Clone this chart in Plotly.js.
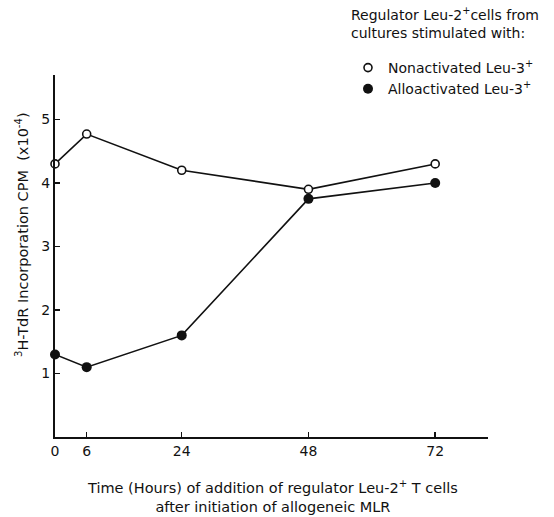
<!DOCTYPE html>
<html>
<head>
<meta charset="utf-8">
<script src="https://cdn.plot.ly/plotly-3.0.1.min.js"></script>
<style>html,body{margin:0;padding:0;background:#fff;}#chart{width:554px;height:517px;}</style>
</head>
<body>
<div id="chart"></div>
<script>
const hours = [0, 6, 24, 48, 72];
const nonactivated = [4.3, 4.77, 4.2, 3.9, 4.3];
const alloactivated = [1.3, 1.1, 1.6, 3.75, 4.0];
const xTickVals = [0, 6, 24, 48, 72];
const xTickText = ['0', '6', '24', '48', '72'];
const yTickVals = [1, 2, 3, 4, 5];
const yTickText = ['1', '2', '3', '4', '5'];
const seriesNames = ['Nonactivated Leu-3<sup>+</sup>', 'Alloactivated Leu-3<sup>+</sup>'];
const legendTitle = 'Regulator Leu-2<sup>+</sup>cells from<br>cultures stimulated with:';
const xTitle = 'Time (Hours) of addition of regulator Leu-2<sup>+</sup> T cells<br>after initiation of allogeneic MLR';
const yTitle = '<sup>3</sup>H-TdR Incorporation CPM  (x10<sup>-4</sup>)';

const ink = '#111';
const fontFam = '"DejaVu Sans", "Liberation Sans", Arial, sans-serif';
const fs = 14;

// plot area in pixels (for placing annotations)
const L = 55, R = 66, T = 75, B = 80, W = 554, H = 517;
const pw = W - L - R, ph = H - T - B;
const px = v => (v - L) / pw;
const py = v => (H - B - v) / ph;

const openMarker = {symbol: 'circle', size: 8, color: '#fff', line: {color: ink, width: 1.6}};
const filledMarker = {symbol: 'circle', size: 10, color: ink, line: {color: ink, width: 0}};

const traces = [
  {x: hours, y: nonactivated, type: 'scatter', mode: 'lines', line: {color: ink, width: 1.6}, showlegend: false, hoverinfo: 'skip'},
  {x: hours, y: alloactivated, type: 'scatter', mode: 'lines', line: {color: ink, width: 1.6}, showlegend: false, hoverinfo: 'skip'},
  {x: hours, y: nonactivated, name: seriesNames[0], type: 'scatter', mode: 'markers', marker: openMarker, cliponaxis: false},
  {x: hours, y: alloactivated, name: seriesNames[1], type: 'scatter', mode: 'markers', marker: filledMarker, cliponaxis: false}
];

const annFont = {family: fontFam, size: fs, color: ink};

const layout = {
  width: W, height: H,
  margin: {l: L, r: R, t: T, b: B, autoexpand: false},
  paper_bgcolor: '#fff', plot_bgcolor: '#fff',
  font: {family: fontFam, size: fs, color: ink},
  showlegend: true,
  legend: {
    x: 348 / W, xanchor: 'left', xref: 'container',
    y: 1 - 52 / H, yanchor: 'top', yref: 'container',
    bgcolor: 'rgba(0,0,0,0)', borderwidth: 0,
    font: {family: fontFam, size: fs, color: ink},
    tracegroupgap: 0, itemwidth: 30
  },
  annotations: [
    {text: legendTitle, xref: 'paper', yref: 'paper', x: px(349), xanchor: 'left', y: py(3), yanchor: 'top',
     align: 'left', showarrow: false, font: annFont},
    {text: xTitle, xref: 'paper', yref: 'paper', x: px(272), xanchor: 'center', y: py(496), yanchor: 'middle',
     align: 'center', showarrow: false, font: {family: fontFam, size: 14.5, color: ink}},
    {text: yTitle, xref: 'paper', yref: 'paper', x: px(22), xanchor: 'center', y: py(235), yanchor: 'middle',
     textangle: -90, showarrow: false, font: {family: fontFam, size: 14.5, color: ink}}
  ],
  xaxis: {
    range: [0, 82], showgrid: false, zeroline: false,
    showline: true, linecolor: ink, linewidth: 2,
    ticks: 'inside', ticklen: 5, tickwidth: 1.5, tickcolor: ink,
    tickmode: 'array', tickvals: xTickVals, ticktext: xTickText,
    tickfont: {family: fontFam, size: fs, color: ink}
  },
  yaxis: {
    range: [0, 5.7], showgrid: false, zeroline: false,
    showline: true, linecolor: ink, linewidth: 2,
    ticks: 'inside', ticklen: 5, tickwidth: 1.5, tickcolor: ink,
    tickmode: 'array', tickvals: yTickVals, ticktext: yTickText,
    tickfont: {family: fontFam, size: fs, color: ink}
  }
};

Plotly.newPlot('chart', traces, layout, {displayModeBar: false, staticPlot: true});
</script>
</body>
</html>
